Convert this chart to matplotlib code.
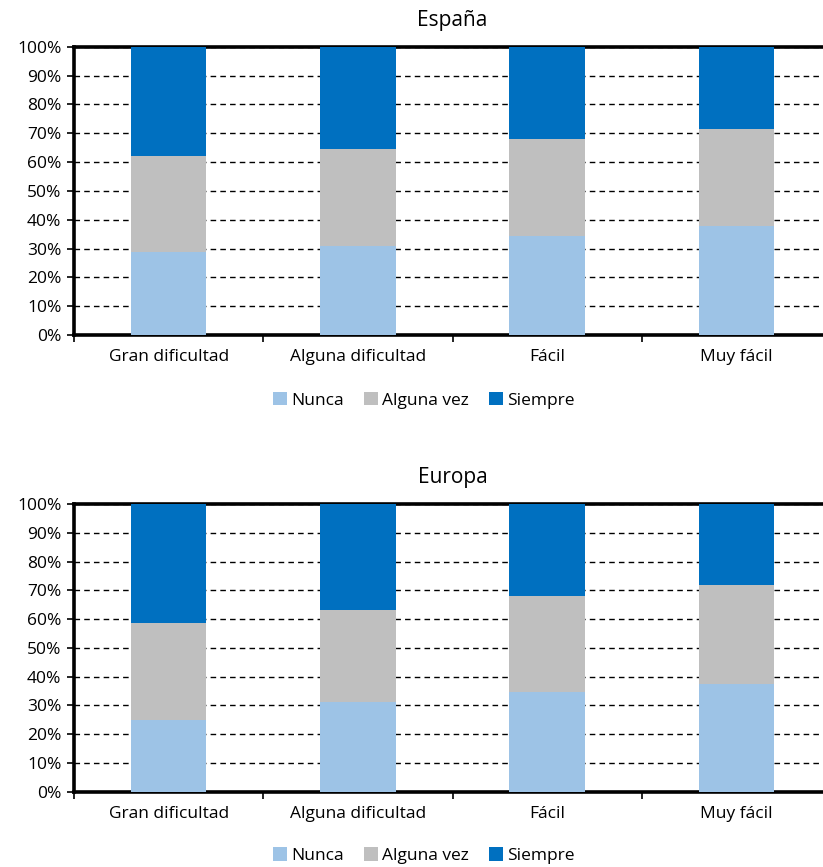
import matplotlib
matplotlib.use("Agg")
import matplotlib.pyplot as plt
import numpy as np
from matplotlib.ticker import FuncFormatter, FixedLocator

plt.rcParams['font.family'] = ['Open Sans', 'DejaVu Sans']

categories = ["Gran dificultad", "Alguna dificultad", "Fácil", "Muy fácil"]
series_names = ["Nunca", "Alguna vez", "Siempre"]
colors = ["#9DC3E6", "#BFBFBF", "#0070C0"]

espana_nunca = [28.7, 31.0, 34.4, 37.8]
espana_alguna = [33.5, 33.5, 33.6, 33.5]
espana_siempre = [37.8, 35.5, 32.0, 28.7]

europa_nunca = [24.9, 31.1, 34.5, 37.3]
europa_alguna = [33.6, 32.1, 33.6, 34.5]
europa_siempre = [41.5, 36.8, 31.9, 28.2]

yticks = [0, 10, 20, 30, 40, 50, 60, 70, 80, 90, 100]

fig = plt.figure(figsize=(8.23, 8.67), dpi=100)

panels = [
    ("España", [espana_nunca, espana_alguna, espana_siempre], [0.0899, 0.6136, 0.920, 0.3325], 0.538),
    ("Europa", [europa_nunca, europa_alguna, europa_siempre], [0.0899, 0.0869, 0.920, 0.3318], 0.013),
]

for title, data, rect, leg_y in panels:
    ax = fig.add_axes(rect)
    x = np.arange(len(categories))
    bottom = np.zeros(len(categories))
    handles = []
    for vals, name, col in zip(data, series_names, colors):
        b = ax.bar(x, vals, width=0.4, bottom=bottom, color=col, label=name,
                   edgecolor="none", zorder=3)
        handles.append(b)
        bottom = bottom + np.array(vals)
    ax.set_xlim(-0.5, len(categories) - 0.5)
    ax.set_ylim(0, 100)
    ax.set_yticks(yticks)
    ax.yaxis.set_major_formatter(FuncFormatter(lambda v, p: f"{int(v)}%"))
    ax.yaxis.grid(True, linestyle=(0, (4, 3)), color="black", linewidth=1.0, zorder=1)
    ax.set_axisbelow(True)
    ax.set_xticks(x)
    ax.set_xticklabels(categories, fontsize=12.5)
    ax.xaxis.set_minor_locator(FixedLocator(np.arange(len(categories) + 1) - 0.5))
    ax.tick_params(axis="x", which="major", length=0, pad=10)
    ax.tick_params(axis="x", which="minor", length=5, width=1.2, direction="out")
    ax.tick_params(axis="y", length=5, width=1.2, direction="out", labelsize=12.5, pad=4)
    for s in ["left", "top", "bottom", "right"]:
        ax.spines[s].set_linewidth(2.6)
        ax.spines[s].set_color("black")
    ax.set_title(title, fontsize=15, pad=15)
    fig.legend(handles=handles, labels=series_names, loc="center",
               bbox_to_anchor=(0.515, leg_y), ncol=3, frameon=False,
               fontsize=12.5, handlelength=0.8, handleheight=0.8,
               handletextpad=0.2, columnspacing=1.2)

fig.savefig("out.png", dpi=100)
